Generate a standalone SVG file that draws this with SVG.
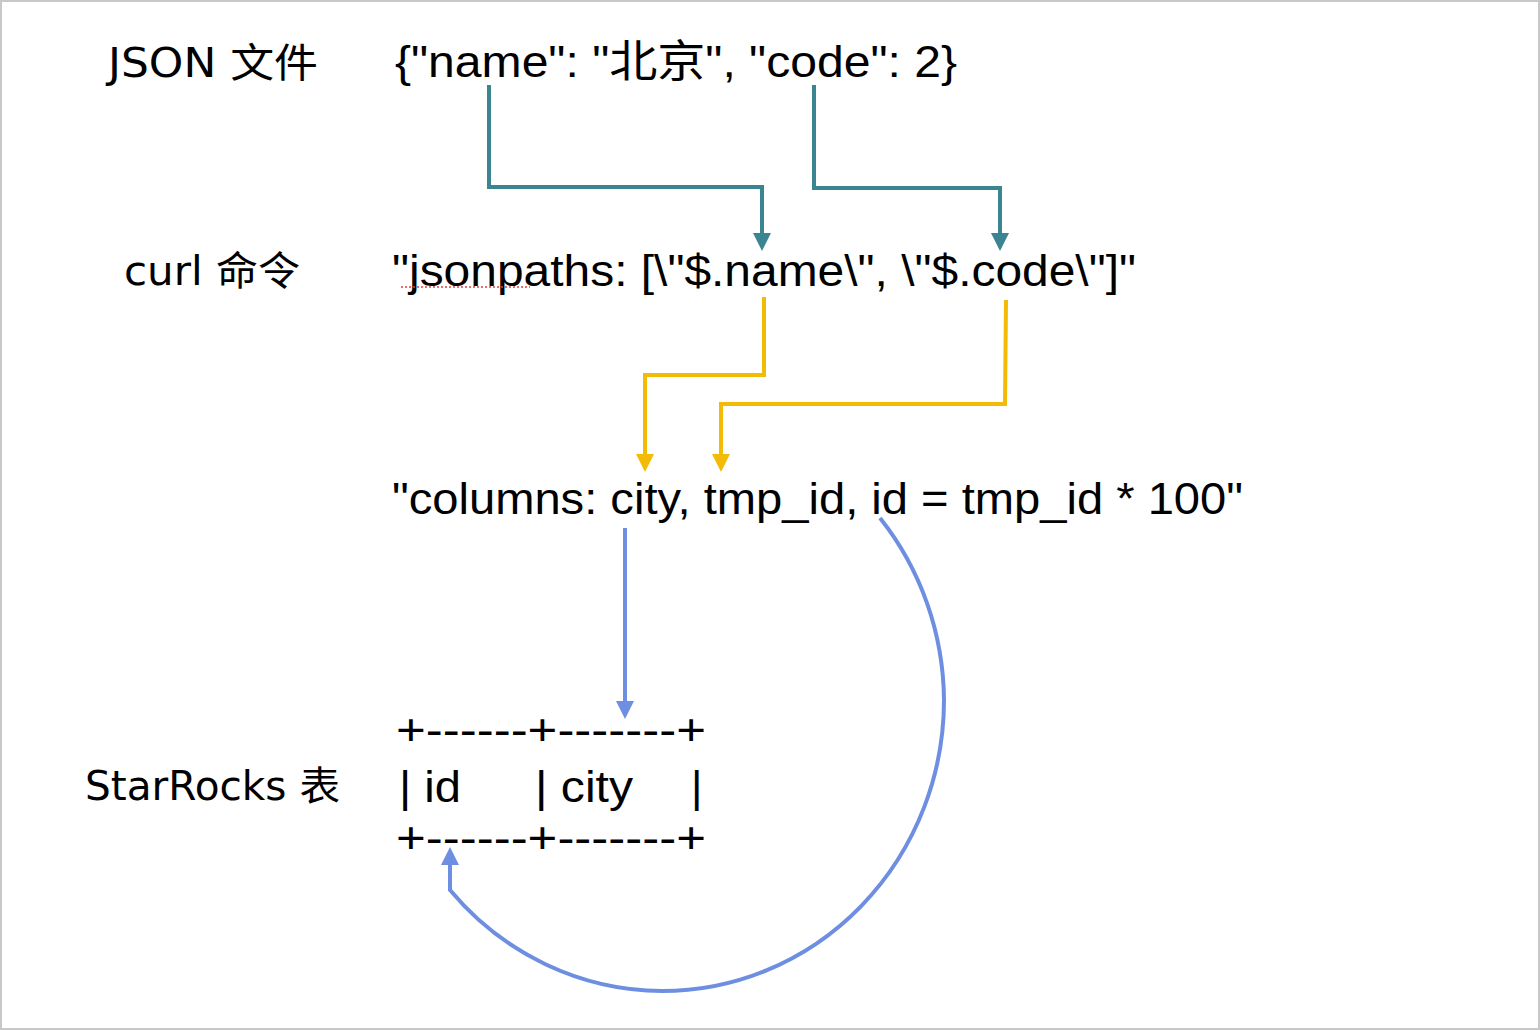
<svg xmlns="http://www.w3.org/2000/svg" width="1540" height="1030" viewBox="0 0 1540 1030">
<style>
.lbl{font-family:"DejaVu Sans","Noto Sans CJK SC",sans-serif;font-size:40px;fill:#000}
.code{font-family:"Liberation Sans","Noto Sans CJK SC",sans-serif;font-size:44px;fill:#000}
.teal{stroke:#3b8592;stroke-width:4;fill:none}
.yel{stroke:#f4bb06;stroke-width:4;fill:none}
.blue{stroke:#6e8fe1;stroke-width:4;fill:none}
</style>
<rect x="1" y="1" width="1538" height="1028" fill="#fff" stroke="#c8c8c8" stroke-width="2"/>
<g id="label-json"><text class="lbl" x="108" y="77" textLength="210" lengthAdjust="spacingAndGlyphs">JSON 文件</text></g>
<g id="label-curl"><text class="lbl" x="124" y="285" textLength="176" lengthAdjust="spacingAndGlyphs">curl 命令</text></g>
<g id="label-table"><text class="lbl" x="85" y="800" textLength="255" lengthAdjust="spacingAndGlyphs">StarRocks 表</text></g>
<g id="json"><text class="code" x="395" y="77" textLength="562" lengthAdjust="spacingAndGlyphs">{"name": "北京", "code": 2}</text></g>
<g id="jsonpaths"><text class="code" x="392" y="286" textLength="744" lengthAdjust="spacingAndGlyphs">"jsonpaths: [\"$.name\", \"$.code\"]"</text>
<line x1="401" y1="287" x2="530" y2="287" stroke="#e04040" stroke-width="1.5" stroke-dasharray="2,2"/></g>
<g id="columns"><text class="code" x="392" y="514" textLength="851" lengthAdjust="spacingAndGlyphs">"columns: city, tmp_id, id = tmp_id * 100"</text></g>
<g id="table">
<text class="code" x="396" y="745" textLength="310" lengthAdjust="spacingAndGlyphs">+------+-------+</text>
<text x="399" y="802" class="code" textLength="62" lengthAdjust="spacingAndGlyphs">| id</text>
<text x="535" y="802" class="code" textLength="98" lengthAdjust="spacingAndGlyphs">| city</text>
<text x="691" y="802" class="code">|</text>
<text class="code" x="396" y="853" textLength="310" lengthAdjust="spacingAndGlyphs">+------+-------+</text>
</g>
<g id="connectors">
<path class="teal" d="M489,85 V187 H762 V234"/>
<path d="M753,233 L771,233 L762,251 Z" fill="#3b8592"/>
<path class="teal" d="M814,85 V188 H1000 V234"/>
<path d="M991,233 L1009,233 L1000,251 Z" fill="#3b8592"/>
<path class="yel" d="M764,297 V375 H645 V455"/>
<path d="M636,454 L654,454 L645,472 Z" fill="#f4bb06"/>
<path class="yel" d="M1006,300 L1005,404 H721 V455"/>
<path d="M712,454 L730,454 L721,472 Z" fill="#f4bb06"/>
<path class="blue" d="M625,528 V702"/>
<path d="M616,701 L634,701 L625,719 Z" fill="#6e8fe1"/>
<path class="blue" d="M880,518 A282,291 0 0 1 944,700 A282,291 0 0 1 662,991 A282,291 0 0 1 450,890 V864"/>
<path d="M441,865 L459,865 L450,847 Z" fill="#6e8fe1"/>
</g>
</svg>
